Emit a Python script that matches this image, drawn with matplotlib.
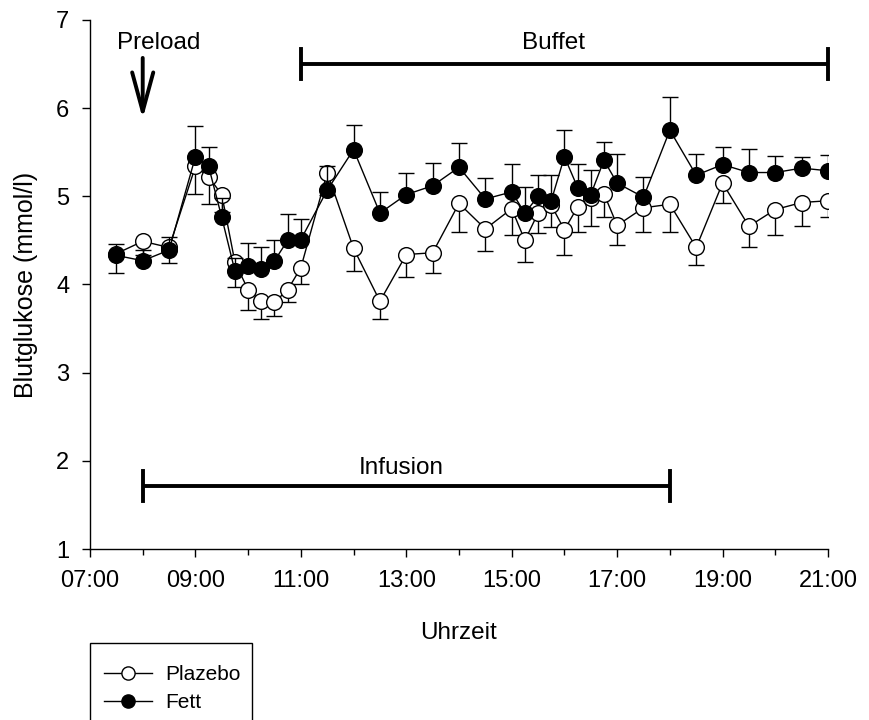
import matplotlib
matplotlib.use("Agg")
import matplotlib.pyplot as plt
from matplotlib.lines import Line2D
from matplotlib.patches import Rectangle
import numpy as np

plt.rcParams['font.family'] = ['Liberation Sans', 'DejaVu Sans']

times = ["07:30", "08:00", "08:30", "09:00", "09:15", "09:30", "09:45", "10:00",
         "10:15", "10:30", "10:45", "11:00", "11:30", "12:00", "12:30", "13:00",
         "13:30", "14:00", "14:30", "15:00", "15:15", "15:30", "15:45", "16:00",
         "16:15", "16:30", "16:45", "17:00", "17:30", "18:00", "18:30", "19:00",
         "19:30", "20:00", "20:30", "21:00"]

plazebo = [4.35, 4.49, 4.42, 5.34, 5.22, 5.02, 4.25, 3.94, 3.81, 3.80, 3.94, 4.19,
           5.27, 4.41, 3.81, 4.34, 4.36, 4.92, 4.63, 4.86, 4.50, 4.81, 4.90, 4.62,
           4.88, 4.98, 5.03, 4.67, 4.87, 4.91, 4.42, 5.15, 4.66, 4.85, 4.93, 4.95]
plazebo_sem = [0.22, 0.15, 0.18, 0.31, 0.31, 0.20, 0.28, 0.23, 0.20, 0.16, 0.14, 0.19,
               0.25, 0.26, 0.20, 0.26, 0.23, 0.32, 0.25, 0.30, 0.25, 0.23, 0.25, 0.28,
               0.28, 0.32, 0.27, 0.22, 0.27, 0.31, 0.20, 0.22, 0.24, 0.29, 0.27, 0.19]

fett = [4.33, 4.27, 4.39, 5.45, 5.34, 4.76, 4.15, 4.21, 4.18, 4.27, 4.50, 4.51,
        5.07, 5.53, 4.81, 5.02, 5.12, 5.33, 4.97, 5.05, 4.81, 5.00, 4.95, 5.45,
        5.10, 5.02, 5.41, 5.15, 4.99, 5.75, 5.24, 5.36, 5.27, 5.27, 5.32, 5.29]
fett_sem = [0.13, 0.12, 0.15, 0.35, 0.22, 0.22, 0.15, 0.26, 0.24, 0.24, 0.30, 0.23,
            0.27, 0.28, 0.24, 0.25, 0.26, 0.27, 0.24, 0.32, 0.30, 0.24, 0.29, 0.30,
            0.27, 0.28, 0.21, 0.33, 0.23, 0.38, 0.24, 0.20, 0.27, 0.19, 0.13, 0.18]

xtick_hours = [7, 9, 11, 13, 15, 17, 19, 21]
xtick_labels = ["07:00", "09:00", "11:00", "13:00", "15:00", "17:00", "19:00", "21:00"]
yticks = [1, 2, 3, 4, 5, 6, 7]

def to_hours(s):
    h, m = s.split(":")
    return int(h) + int(m) / 60.0

x = np.array([to_hours(t) for t in times])
zeros = np.zeros(len(x))

W, H = 869, 720
fig = plt.figure(figsize=(W / 100, H / 100), dpi=100)
ax = fig.add_axes([90 / W, 1 - 549 / H, (828 - 90) / W, (549 - 20) / H])

# Plazebo (lower error bars only)
ax.errorbar(x, plazebo, yerr=[plazebo_sem, zeros], fmt='none', ecolor='black',
            elinewidth=1.0, capsize=5.5, capthick=1.0, zorder=2)
ax.plot(x, plazebo, color='black', lw=1.0, marker='o', ms=11.3, mfc='white',
        mec='black', mew=1.0, zorder=3)
# Fett (upper error bars only)
ax.errorbar(x, fett, yerr=[zeros, fett_sem], fmt='none', ecolor='black',
            elinewidth=1.0, capsize=5.5, capthick=1.0, zorder=4)
ax.plot(x, fett, color='black', lw=1.0, marker='o', ms=11.3, mfc='black',
        mec='black', mew=1.0, zorder=5)

ax.set_xlim(7, 21)
ax.set_ylim(1, 7)
ax.set_xticks(xtick_hours)
ax.set_xticklabels(xtick_labels)
ax.set_xticks(np.arange(7, 22, 1), minor=True)
ax.set_yticks(yticks)
for s in ['top', 'right']:
    ax.spines[s].set_visible(False)
for s in ['left', 'bottom']:
    ax.spines[s].set_linewidth(1.0)
ax.tick_params(axis='both', which='major', direction='out', length=6, width=1.0,
               labelsize=17, pad=9)
ax.tick_params(axis='x', which='minor', direction='out', length=4, width=1.0)
ax.set_xlabel("Uhrzeit", fontsize=17.5, labelpad=22)
ax.set_ylabel("Blutglukose (mmol/l)", fontsize=18, labelpad=13)

# Annotations
bar_lw = 2.8
ax.plot([11, 21], [6.50, 6.50], color='black', lw=bar_lw, clip_on=False, solid_capstyle='butt')
ax.plot([11, 11], [6.33, 6.67], color='black', lw=bar_lw, clip_on=False)
ax.plot([21, 21], [6.33, 6.67], color='black', lw=bar_lw, clip_on=False)
ax.text(15.8, 6.74, "Buffet", ha='center', va='center', fontsize=17.5)

ax.plot([8, 18], [1.72, 1.72], color='black', lw=bar_lw, clip_on=False, solid_capstyle='butt')
ax.plot([8, 8], [1.55, 1.89], color='black', lw=bar_lw, clip_on=False)
ax.plot([18, 18], [1.55, 1.89], color='black', lw=bar_lw, clip_on=False)
ax.text(12.9, 1.92, "Infusion", ha='center', va='center', fontsize=17.5)

ax.text(8.3, 6.74, "Preload", ha='center', va='center', fontsize=17.5)
ax.annotate('', xy=(8.0, 5.88), xytext=(8.0, 6.57),
            arrowprops=dict(arrowstyle='->,head_length=1.4,head_width=0.38',
                            lw=2.8, color='black', mutation_scale=20,
                            shrinkA=0, shrinkB=0))

# Legend
handles = [Line2D([], [], color='black', lw=1.0, marker='o', ms=9.5, mfc='white', mec='black'),
           Line2D([], [], color='black', lw=1.0, marker='o', ms=9.5, mfc='black', mec='black')]
fig.legend(handles, ["Plazebo", "Fett"], loc='upper left',
           bbox_to_anchor=(94 / W, 1 - 655 / H), frameon=False, fontsize=15,
           handlelength=2.3, handletextpad=0.6, labelspacing=0.42, borderpad=0.0)
fig.patches.append(Rectangle((90 / W, -0.05), (252 - 90) / W, (1 - 643 / H) + 0.05,
                             transform=fig.transFigure, fill=False, ec='black', lw=1.0))

fig.savefig("out.png", dpi=100)
